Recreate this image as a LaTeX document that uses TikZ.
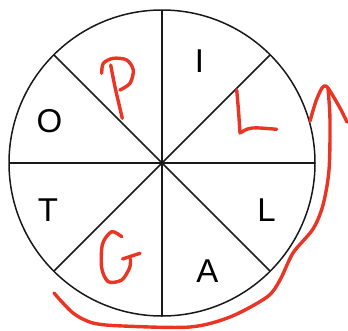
\documentclass[tikz,border=0pt]{standalone}
\usepackage{fontspec}
\setmainfont{Liberation Sans}
\definecolor{rojo}{RGB}{234,52,36}
\begin{document}
\begin{tikzpicture}[x=1pt,y=-1pt,
  borde/.style={line width=1.5pt,black!90},
  letra/.style={font=\fontsize{33}{33}\selectfont,inner sep=0pt},
  mano/.style={rojo,line width=3.4pt,line cap=round,line join=round}]
\useasboundingbox (0,0) rectangle (348,330);
% rueda de 8 sectores
\coordinate (c) at (162,163);
\draw[borde] (c) circle[radius=153pt];
\foreach \a in {0,45,...,315}
  \draw[borde] (c) -- ++(\a:153pt);
% letras impresas
\node[letra] (i) at (199.5,61) {I};
\node[letra] (l) at (266.5,210) {L};
\node[letra] (a) at (207.5,271) {A};
\node[letra] (t) at (48,210) {T};
\node[letra] (o) at (49.5,121) {O};
% letras a mano: P, L, G
\draw[mano] plot[smooth] coordinates {(101.7,73.3) (103.3,63.3) (113.3,58.3) (126.7,60) (133.3,70) (130,83.3) (120,90)};
\draw[mano] plot[smooth] coordinates {(110.7,65) (115,87) (122.3,118.3)};
\draw[mano] (236.7,90) .. controls (238.5,110) .. (240,133) .. controls (250,127) .. (276.7,129.3);
\draw[mano] plot[smooth] coordinates {(121.7,236.7) (111.7,231.7) (102.5,244) (101.7,268) (108.3,281.7) (121.7,280) (129.5,268) (130.5,259)};
\draw[mano] (122.5,259) -- (140,253.3);
% flecha a mano alrededor de la rueda
\draw[mano] plot[smooth] coordinates {(54,293) (73,313) (93,323) (123,326) (190,327) (230,317) (267,297) (280,280) (293,253) (313,229) (323,205) (329,170) (330,120) (328,88)};
\draw[mano] plot[smooth] coordinates {(310,121) (316,101) (322,88) (326,86) (330,91) (340,108) (347,122)};
\end{tikzpicture}
\end{document}
